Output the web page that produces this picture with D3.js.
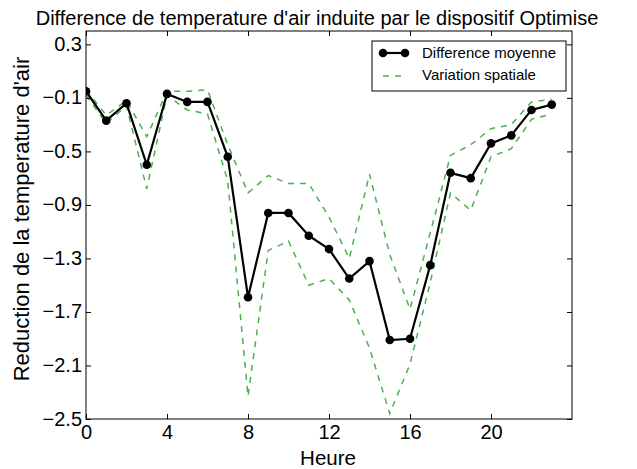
<!DOCTYPE html>
<html><head><meta charset="utf-8">
<script src="https://cdn.jsdelivr.net/npm/d3@7"></script>
<style>body{margin:0;background:#fff;font-family:"Liberation Sans",Arial,sans-serif;}</style>
</head><body>
<svg id="c" width="637" height="469"></svg>
<script>
const hours = d3.range(0, 24);
const meanDiff = [-0.05, -0.27, -0.14, -0.60, -0.07, -0.13, -0.13, -0.54, -1.59, -0.96, -0.96, -1.13, -1.23, -1.45, -1.32, -1.91, -1.90, -1.35, -0.66, -0.70, -0.44, -0.38, -0.19, -0.15];
const upperVar = [-0.04, -0.23, -0.12, -0.39, -0.05, -0.05, -0.04, -0.45, -0.81, -0.68, -0.74, -0.74, -0.99, -1.30, -0.67, -1.27, -1.68, -1.11, -0.53, -0.45, -0.33, -0.30, -0.13, -0.11];
const lowerVar = [-0.08, -0.29, -0.16, -0.78, -0.08, -0.19, -0.22, -0.72, -2.33, -1.24, -1.17, -1.50, -1.45, -1.61, -1.97, -2.46, -2.09, -1.48, -0.81, -0.94, -0.54, -0.48, -0.26, -0.22];
const xTicks = [0, 4, 8, 12, 16, 20];
const yTicks = [0.3, -0.1, -0.5, -0.9, -1.3, -1.7, -2.1, -2.5];
const title = "Difference de temperature d'air induite par le dispositif Optimise";
const xLabel = "Heure";
const yLabel = "Reduction de la temperature d'air";
const legendLabels = ["Difference moyenne", "Variation spatiale"];

const svg = d3.select("#c");
const L = 86, R = 572, T = 31, B = 419;
const x = d3.scaleLinear().domain([0, 24]).range([L, R]);
const y = d3.scaleLinear().domain([-2.5, 0.4]).range([B, T]);
const green = "#4cb04c";
const ff = "Liberation Sans, Arial, sans-serif";

svg.append("clipPath").attr("id","clip").append("rect").attr("x",L).attr("y",T).attr("width",R-L).attr("height",B-T);
const g = svg.append("g").attr("clip-path","url(#clip)");

const line = d3.line().x((d,i)=>x(hours[i])).y(d=>y(d));
[upperVar, lowerVar].forEach(arr=>{
  g.append("path").attr("d", line(arr)).attr("fill","none").attr("stroke",green)
   .attr("stroke-width",1.5).attr("stroke-dasharray","6,6");
});
g.append("path").attr("d", line(meanDiff)).attr("fill","none").attr("stroke","#000").attr("stroke-width",2.2);
g.selectAll("circle.m").data(meanDiff).enter().append("circle")
  .attr("cx",(d,i)=>x(hours[i])).attr("cy",d=>y(d)).attr("r",4.3).attr("fill","#000");

const tl = 5;
const fmt = d3.format(".1f");
const axB = svg.append("g").attr("transform",`translate(0,${B})`).call(d3.axisBottom(x).tickValues(xTicks).tickSize(-tl).tickPadding(6));
const axT = svg.append("g").attr("transform",`translate(0,${T})`).call(d3.axisTop(x).tickValues(xTicks).tickSize(-tl).tickFormat(""));
const axL = svg.append("g").attr("transform",`translate(${L},0)`).call(d3.axisLeft(y).tickValues(yTicks).tickSize(-tl).tickPadding(4).tickFormat(d=>fmt(d).replace("-","\u2212")));
const axR = svg.append("g").attr("transform",`translate(${R},0)`).call(d3.axisRight(y).tickValues(yTicks).tickSize(-tl).tickFormat(""));
[axB,axT,axL,axR].forEach(a=>{
  a.select(".domain").remove();
  a.selectAll("line").attr("stroke","#000").attr("stroke-width",1);
  a.selectAll("text").attr("font-size",20).attr("font-family",ff).attr("fill","#000");
});
axB.selectAll("text").attr("dy","0.72em");
axL.selectAll("text").attr("dy","0.3em");
svg.append("rect").attr("x",L).attr("y",T).attr("width",R-L).attr("height",B-T).attr("fill","none").attr("stroke","#000").attr("stroke-width",1);

svg.append("text").attr("x",317).attr("y",25).attr("text-anchor","middle").attr("font-size",20).attr("font-family",ff).text(title);
svg.append("text").attr("x",328).attr("y",465).attr("text-anchor","middle").attr("font-size",20.5).attr("font-family",ff).text(xLabel);
svg.append("text").attr("transform",`translate(29,219) rotate(-90)`).attr("text-anchor","middle").attr("font-size",22).attr("font-family",ff).text(yLabel);

const lg = svg.append("g").attr("transform","translate(372,41)");
lg.append("rect").attr("width",194).attr("height",50).attr("fill","#fff").attr("stroke","#000").attr("stroke-width",1);
lg.append("line").attr("x1",11).attr("x2",33).attr("y1",12).attr("y2",12).attr("stroke","#000").attr("stroke-width",2.2);
[11,33].forEach(cx=>lg.append("circle").attr("cx",cx).attr("cy",12).attr("r",4.3).attr("fill","#000"));
lg.append("line").attr("x1",11).attr("x2",33).attr("y1",35).attr("y2",35).attr("stroke",green).attr("stroke-width",1.5).attr("stroke-dasharray","6,6");
lg.append("text").attr("x",50).attr("y",17).attr("font-size",15).attr("font-family",ff).text(legendLabels[0]);
lg.append("text").attr("x",50).attr("y",39).attr("font-size",15).attr("font-family",ff).text(legendLabels[1]);
</script>
</body></html>
